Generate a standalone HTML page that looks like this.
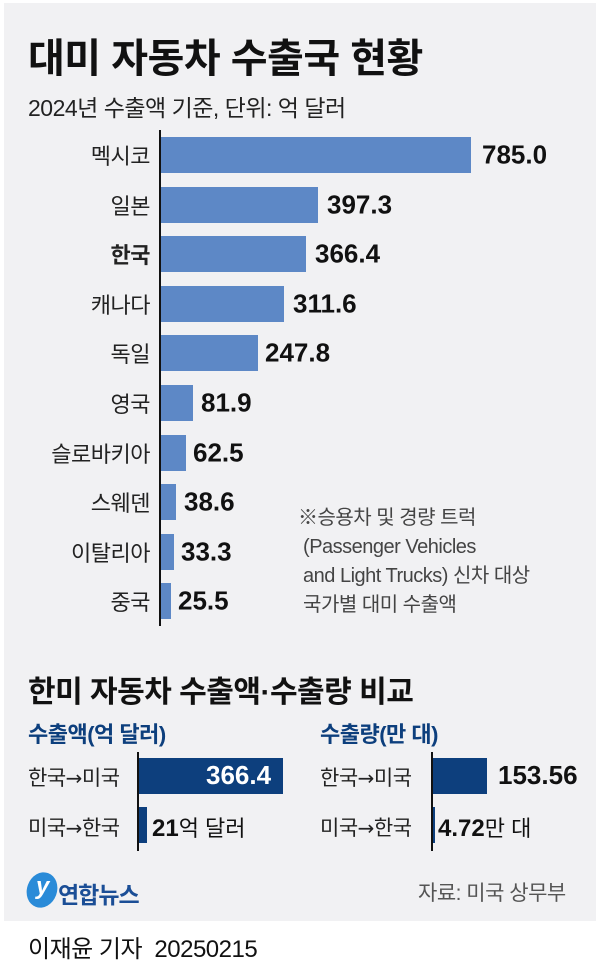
<!DOCTYPE html>
<html><head><meta charset="utf-8"><style>
*{margin:0;padding:0;box-sizing:border-box}
body{width:600px;height:980px;background:#fff;position:relative;font-family:"Liberation Sans","Noto Sans CJK KR",sans-serif;color:#111;overflow:hidden}
.panel{position:absolute;left:4px;top:3px;width:592px;height:918px;background:#f1f1f3}
.a{position:absolute;white-space:nowrap}
.lab{position:absolute;right:450px;font-size:22px;color:#222;transform:translateY(-50%);letter-spacing:-0.5px}
.bar{position:absolute;left:161px;height:36px;background:#5d88c6;transform:translateY(-50%)}
.val{position:absolute;font-size:26px;font-weight:bold;color:#111;transform:translateY(-50%)}
.navy{background:#0d3f7d}
.ar{font-family:"DejaVu Sans",sans-serif;font-size:20px}
</style></head><body>
<div class="panel"></div>
<div class="a" style="left:28px;top:26px;font-size:40px;font-weight:bold;letter-spacing:-0.5px">대미 자동차 수출국 현황</div>
<div class="a" style="left:28px;top:89px;font-size:23px;color:#222;letter-spacing:-0.5px">2024년 수출액 기준, 단위: 억 달러</div>
<div class="a" style="left:159px;top:130px;width:2px;height:496px;background:#111"></div>

<div class="lab" style="top:155px">멕시코</div><div class="bar" style="top:155px;width:310px"></div><div class="val" style="top:155px;left:482px">785.0</div>
<div class="lab" style="top:205px">일본</div><div class="bar" style="top:205px;width:157px"></div><div class="val" style="top:205px;left:327px">397.3</div>
<div class="lab" style="top:254px;font-weight:bold">한국</div><div class="bar" style="top:254px;width:145px"></div><div class="val" style="top:254px;left:315px">366.4</div>
<div class="lab" style="top:304px">캐나다</div><div class="bar" style="top:304px;width:123px"></div><div class="val" style="top:304px;left:293px">311.6</div>
<div class="lab" style="top:353px">독일</div><div class="bar" style="top:353px;width:97px"></div><div class="val" style="top:353px;left:265px">247.8</div>
<div class="lab" style="top:403px">영국</div><div class="bar" style="top:403px;width:32px"></div><div class="val" style="top:403px;left:201px">81.9</div>
<div class="lab" style="top:453px">슬로바키아</div><div class="bar" style="top:453px;width:25px"></div><div class="val" style="top:453px;left:193px">62.5</div>
<div class="lab" style="top:502px">스웨덴</div><div class="bar" style="top:502px;width:15px"></div><div class="val" style="top:502px;left:184px">38.6</div>
<div class="lab" style="top:552px">이탈리아</div><div class="bar" style="top:552px;width:13px"></div><div class="val" style="top:552px;left:181px">33.3</div>
<div class="lab" style="top:601px">중국</div><div class="bar" style="top:601px;width:10px"></div><div class="val" style="top:601px;left:178px">25.5</div>

<div class="a" style="left:298px;top:504px;font-size:20px;color:#444;line-height:29px;letter-spacing:-0.5px">※승용차 및 경량 트럭<br>&nbsp;(Passenger Vehicles<br>&nbsp;and Light Trucks) 신차 대상<br>&nbsp;국가별 대미 수출액</div>

<div class="a" style="left:28px;top:667px;font-size:30px;font-weight:bold;letter-spacing:-0.5px">한미 자동차 수출액·수출량 비교</div>
<div class="a" style="left:28px;top:717px;font-size:22px;font-weight:bold;color:#0d3f7d;letter-spacing:-0.5px">수출액(억 달러)</div>
<div class="a" style="left:320px;top:717px;font-size:22px;font-weight:bold;color:#0d3f7d;letter-spacing:-0.5px">수출량(만 대)</div>

<div class="a" style="left:137px;top:752px;width:2px;height:99px;background:#111"></div>
<div class="a" style="left:28px;top:762px;font-size:21px;color:#222;letter-spacing:-0.5px">한국<span class="ar">→</span>미국</div>
<div class="a navy" style="left:139px;top:758px;width:144px;height:36px"></div>
<div class="a" style="left:206px;top:760px;font-size:26px;font-weight:bold;color:#fff">366.4</div>
<div class="a" style="left:28px;top:812px;font-size:21px;color:#222;letter-spacing:-0.5px">미국<span class="ar">→</span>한국</div>
<div class="a navy" style="left:139px;top:807px;width:8px;height:36px"></div>
<div class="a" style="left:152px;top:811px;font-size:22px;color:#111"><b style="font-size:24px">21</b>억 달러</div>

<div class="a" style="left:431px;top:752px;width:2px;height:99px;background:#111"></div>
<div class="a" style="left:320px;top:762px;font-size:21px;color:#222;letter-spacing:-0.5px">한국<span class="ar">→</span>미국</div>
<div class="a navy" style="left:433px;top:758px;width:54px;height:36px"></div>
<div class="a" style="left:498px;top:760px;font-size:26px;font-weight:bold">153.56</div>
<div class="a" style="left:320px;top:812px;font-size:21px;color:#222;letter-spacing:-0.5px">미국<span class="ar">→</span>한국</div>
<div class="a navy" style="left:433px;top:807px;width:2px;height:36px"></div>
<div class="a" style="left:438px;top:811px;font-size:22px"><b style="font-size:24px">4.72</b>만 대</div>

<div class="a" style="left:27px;top:872px;width:30px;height:36px;border-radius:50%;background:#2a8bd8;transform:rotate(20deg)"></div>
<div class="a" style="left:36px;top:873px;font-size:24px;font-style:italic;color:#fff;font-weight:bold">y</div>
<div class="a" style="left:58px;top:876px;font-size:23px;font-weight:bold;color:#1b4e96;letter-spacing:-1px">연합뉴스</div>
<div class="a" style="left:418px;top:877px;font-size:21px;color:#555;letter-spacing:-0.5px">자료: 미국 상무부</div>

<div class="a" style="left:28px;top:929px;font-size:24px;color:#111;letter-spacing:-0.5px">이재윤 기자&nbsp; 20250215</div>
</body></html>
